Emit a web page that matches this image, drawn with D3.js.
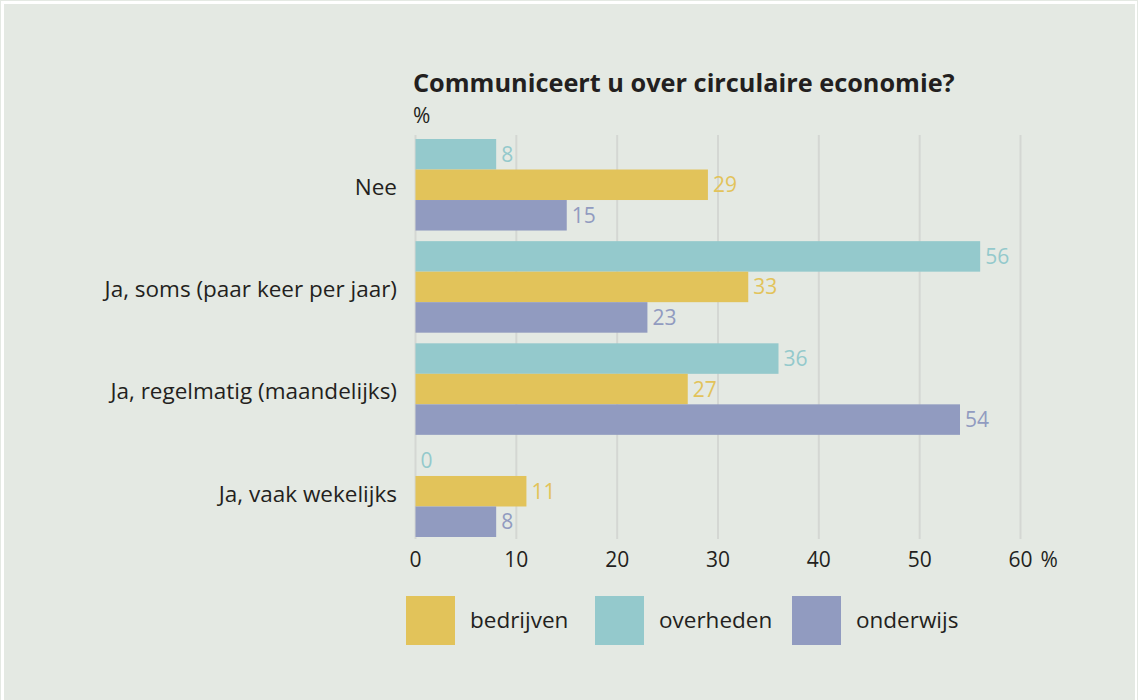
<!DOCTYPE html>
<html><head><meta charset="utf-8">
<script src="https://cdn.jsdelivr.net/npm/d3@7/dist/d3.min.js"></script>
<style>
html,body{margin:0;padding:0;background:#fff;}
svg{display:block;}
text{font-family:"Open Sans",sans-serif;fill:#231f20;}
</style></head>
<body>
<svg id="chart" width="1138" height="700"></svg>
<script>
const categories = ["Nee", "Ja, soms (paar keer per jaar)", "Ja, regelmatig (maandelijks)", "Ja, vaak wekelijks"];
const seriesNames = ["overheden", "bedrijven", "onderwijs"];
const overheden = [8, 56, 36, 0];
const bedrijven = [29, 33, 27, 11];
const onderwijs = [15, 23, 54, 8];
const ticks = [0, 10, 20, 30, 40, 50, 60];
const legendOrder = ["bedrijven", "overheden", "onderwijs"];
const colors = {overheden: "#94c9cc", bedrijven: "#e2c35a", onderwijs: "#919bc0"};
const title = "Communiceert u over circulaire economie?";

const values = {overheden, bedrijven, onderwijs};
const svg = d3.select("#chart");

// frame
svg.append("rect").attr("x",0).attr("y",0).attr("width",1138).attr("height",700).attr("fill","#e4e9e3");
svg.append("rect").attr("x",1).attr("y",1).attr("width",1136).attr("height",700).attr("fill","#ffffff");
svg.append("rect").attr("x",4).attr("y",4).attr("width",1131).attr("height",696).attr("fill","#e4e9e3");

const x = d3.scaleLinear().domain([0, 60]).range([415.5, 1020.5]);
const y = d3.scaleBand().domain(categories).range([139, 537]).paddingInner(0.104).paddingOuter(0);
const ySub = d3.scaleBand().domain(seriesNames).range([0, y.bandwidth()]).padding(0);

// gridlines
svg.append("g").selectAll("line").data(ticks).join("line")
  .attr("x1", d => x(d)).attr("x2", d => x(d))
  .attr("y1", 135).attr("y2", 539)
  .attr("stroke", "#d4d7d3").attr("stroke-width", 2);

// tick labels
svg.append("g").selectAll("text").data(ticks).join("text")
  .attr("x", d => x(d)).attr("y", 567)
  .attr("text-anchor", "middle")
  .style("font-size", "21px")
  .text(d => d);
svg.append("text").attr("x", x(60) + 20).attr("y", 567).style("font-size","21px").text("%");

// bars
const groups = svg.append("g").selectAll("g").data(categories).join("g")
  .attr("transform", d => `translate(0,${y(d)})`);
groups.selectAll("rect").data((c, i) => seriesNames.map(s => ({s, v: values[s][i]}))).join("rect")
  .attr("x", x(0)).attr("y", d => ySub(d.s))
  .attr("width", d => x(d.v) - x(0)).attr("height", ySub.bandwidth())
  .attr("fill", d => colors[d.s]);
groups.selectAll("text.val").data((c, i) => seriesNames.map(s => ({s, v: values[s][i]}))).join("text")
  .attr("class","val")
  .attr("x", d => x(d.v) + 5).attr("y", d => ySub(d.s) + ySub.bandwidth()/2)
  .attr("dy", "0.36em")
  .style("font-size", "21px")
  .style("fill", d => colors[d.s])
  .text(d => d.v);

// category labels
svg.append("g").selectAll("text").data(categories).join("text")
  .attr("x", 397).attr("y", d => y(d) + y.bandwidth()/2)
  .attr("dy", "0.46em")
  .attr("text-anchor", "end")
  .style("font-size", "22.5px")
  .text(d => d);

// title
svg.append("text").attr("x", 413).attr("y", 92).style("font-size","25.3px").style("font-weight","bold").text(title);
svg.append("text").attr("x", 413).attr("y", 123).style("font-size","21px").text("%");

// legend
const lx = [406, 595, 792];
const lg = svg.append("g").selectAll("g").data(legendOrder).join("g")
  .attr("transform", (d, i) => `translate(${lx[i]},596)`);
lg.append("rect").attr("width", 49).attr("height", 49).attr("fill", d => colors[d]);
lg.append("text").attr("x", 64).attr("y", 32).style("font-size","22.5px").text(d => d);
</script>
</body></html>
